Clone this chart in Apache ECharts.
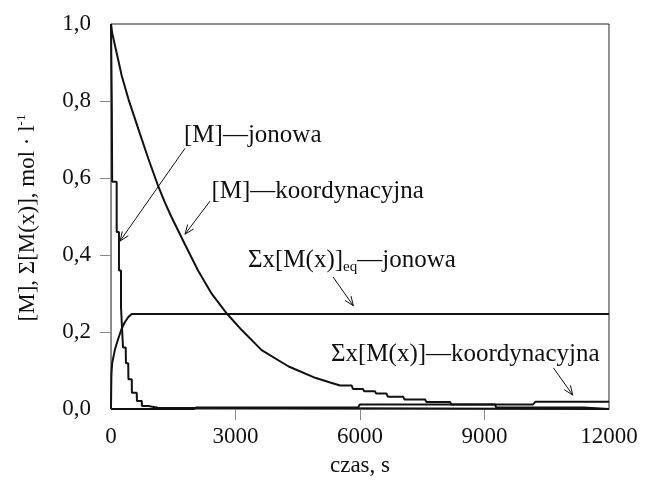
<!DOCTYPE html>
<html>
<head>
<meta charset="utf-8">
<script src="https://cdn.jsdelivr.net/npm/echarts@6/dist/echarts.min.js"></script>
<style>
  html, body { margin: 0; background: #fff; }
  #chart { width: 645px; height: 482px; }
</style>
</head>
<body>
<div id="chart"></div>
<script>
// czas [s], stężenie [mol/l]
const xTicks = [0, 3000, 6000, 9000, 12000];
const yTicks = [0, 0.2, 0.4, 0.6, 0.8, 1.0];

// [M] — jonowa (schodkowy spadek)
const ionM = [
  [0, 1.0], [20, 1.0], [20, 0.78], [28, 0.78], [28, 0.59], [137, 0.59], [137, 0.46],
  [192, 0.46], [192, 0.36], [241, 0.36], [241, 0.265], [289, 0.265], [289, 0.16],
  [355, 0.16], [360, 0.119], [415, 0.119], [420, 0.077], [500, 0.077], [505, 0.042],
  [620, 0.042], [625, 0.021], [740, 0.021], [745, 0.008], [900, 0.008], [905, 0.003],
  [1130, 0.003], [1135, 0], [12000, 0]
];

// Σx[M(x)]eq — jonowa
const ionSum = [
  [0, 0], [8, 0.08], [15, 0.10], [30, 0.12], [96, 0.155], [176, 0.183], [258, 0.209],
  [337, 0.226], [417, 0.239], [499, 0.247], [12000, 0.247]
];

// [M] — koordynacyjna
const coordM = [
  [0, 1.0], [30, 0.976], [100, 0.942], [260, 0.865], [420, 0.805], [660, 0.727],
  [900, 0.650], [1140, 0.578], [1300, 0.536], [1460, 0.498], [1780, 0.428],
  [2100, 0.359], [2430, 0.299], [2790, 0.248], [3150, 0.205], [3630, 0.153],
  [4270, 0.111], [4920, 0.081], [5300, 0.068], [5520, 0.061],
  [5800, 0.061], [5830, 0.052], [6070, 0.052], [6100, 0.046], [6360, 0.046],
  [6390, 0.040], [6640, 0.040], [6670, 0.032], [7040, 0.032], [7070, 0.025],
  [7570, 0.025], [7600, 0.018], [8170, 0.018], [8200, 0.012], [9250, 0.012],
  [9280, 0.004], [11380, 0.004], [11400, 0], [12000, 0]
];

// Σx[M(x)] — koordynacyjna
const coordSum = [
  [0, 0], [2000, 0], [2050, 0.004], [5950, 0.004], [6000, 0.012],
  [10170, 0.012], [10230, 0.019], [12000, 0.019]
];

const FONT = 'Liberation Serif';
const INK = '#111';

const line = (data) => ({
  type: 'line', data, showSymbol: false, animation: false,
  lineStyle: { color: INK, width: 2 }, z: 3
});

const option = {
  animation: false,
  grid: { left: 111, right: 36, top: 24, bottom: 68, show: true, borderColor: '#222', borderWidth: 1 },
  xAxis: {
    type: 'value', min: 0, max: 12000, interval: 3000,
    name: 'czas, s', nameLocation: 'middle', nameGap: 45,
    nameTextStyle: { fontFamily: FONT, fontSize: 23, color: INK },
    axisLine: { lineStyle: { color: '#888', width: 1 } },
    axisTick: { length: 11, lineStyle: { color: '#888' }, customValues: [3000, 6000, 9000] },
    axisLabel: { fontFamily: FONT, fontSize: 23, color: INK, margin: 16, customValues: xTicks, formatter: v => String(v) },
    splitLine: { show: false }
  },
  yAxis: {
    type: 'value', min: 0, max: 1, interval: 0.2,
    axisLine: { lineStyle: { color: '#888', width: 1 } },
    axisTick: { length: 11, lineStyle: { color: '#888' }, customValues: [0.2, 0.4, 0.6, 0.8] },
    axisLabel: {
      fontFamily: FONT, fontSize: 23, color: INK, margin: 20, customValues: yTicks,
      formatter: v => v.toFixed(1).replace('.', ',')
    },
    splitLine: { show: false }
  },
  series: [line(ionM), line(ionSum), line(coordM), line(coordSum)]
};

const chart = echarts.init(document.getElementById('chart'));
chart.setOption(option);

// opisy krzywych i strzałki (w jednostkach danych)
const notes = [
  { text: '{m|[M]—jonowa}', at: [1760, 0.710] },
  { text: '{m|[M]—koordynacyjna}', at: [2420, 0.564] },
  { text: '{m|Σx[M(x)]}{s|eq}{m|—jonowa}', at: [3300, 0.386] },
  { text: '{m|Σx[M(x)]—koordynacyjna}', at: [5300, 0.142] }
];
const arrows = [
  [[1783, 0.677], [217, 0.436]],
  [[2386, 0.540], [1783, 0.454]],
  [[5350, 0.343], [5840, 0.268]],
  [[10660, 0.107], [11127, 0.036]]
];

const px = p => chart.convertToPixel({ gridIndex: 0 }, p);
const graphics = [];

// opis osi Y (obrócony)
graphics.push({
  type: 'text', x: 28, y: 218, rotation: Math.PI / 2, z: 10,
  style: {
    text: '{a|[M], Σ[M(x)], mol · l}{b|-1}', align: 'center', verticalAlign: 'middle',
    rich: {
      a: { fontFamily: FONT, fontSize: 23, fill: INK, lineHeight: 26 },
      b: { fontFamily: FONT, fontSize: 13, fill: INK, lineHeight: 13, padding: [0, 0, 12, 0] }
    }
  }
});

notes.forEach(n => {
  const [x, y] = px(n.at);
  graphics.push({
    type: 'text', z: 10,
    style: {
      x, y, text: n.text, align: 'left', verticalAlign: 'middle',
      rich: {
        m: { fontFamily: FONT, fontSize: 25, fill: INK },
        s: { fontFamily: FONT, fontSize: 15, fill: INK, padding: [14, 0, 0, 0] }
      }
    }
  });
});
arrows.forEach(([a, b]) => {
  const [x1, y1] = px(a);
  const [x2, y2] = px(b);
  const ang = Math.atan2(y2 - y1, x2 - x1);
  const L = 10, w = 0.38;
  const h1 = [x2 - L * Math.cos(ang - w), y2 - L * Math.sin(ang - w)];
  const h2 = [x2 - L * Math.cos(ang + w), y2 - L * Math.sin(ang + w)];
  graphics.push({ type: 'line', z: 10, shape: { x1, y1, x2, y2 }, style: { stroke: INK, lineWidth: 1 } });
  graphics.push({ type: 'polyline', z: 10, shape: { points: [h1, [x2, y2], h2] }, style: { stroke: INK, lineWidth: 1, fill: null } });
});
chart.setOption({ graphic: graphics });
</script>
</body>
</html>
